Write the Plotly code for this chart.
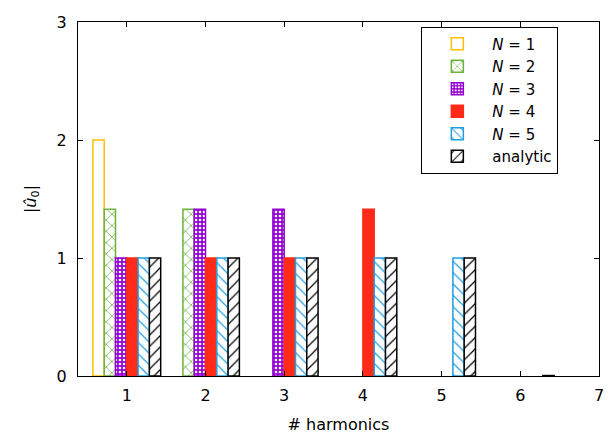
import plotly.graph_objects as go

harmonics = [1, 2, 3, 4, 5, 6]
series_names = ["<i>N</i> = 1", "<i>N</i> = 2", "<i>N</i> = 3", "<i>N</i> = 4", "<i>N</i> = 5", "analytic"]
n1 = [2.0, None, None, None, None, None]
n2 = [1.414, 1.414, None, None, None, None]
n3 = [1.0, 1.414, 1.414, None, None, None]
n4 = [1.0, 1.0, 1.0, 1.414, None, None]
n5 = [1.0, 1.0, 1.0, 1.0, 1.0, None]
analytic = [1.0, 1.0, 1.0, 1.0, 1.0, 0.004]
series_values = [n1, n2, n3, n4, n5, analytic]

colors = ["#ffbf00", "#6cb33e", "#9400d3", "#ff2a17", "#1f9ee0", "#000000"]
patterns = [
    dict(shape="", fillmode="replace"),
    dict(shape="x", fgcolor=colors[1], bgcolor="white", size=8, solidity=0.18, fillmode="replace"),
    dict(shape=".", fgcolor="white", bgcolor=colors[2], size=4, solidity=0.35, fillmode="replace"),
    dict(shape="", fillmode="replace"),
    dict(shape="\\", fgcolor=colors[4], bgcolor="white", size=8, solidity=0.15, fillmode="replace"),
    dict(shape="/", fgcolor=colors[5], bgcolor="white", size=8, solidity=0.15, fillmode="replace"),
]
fills = ["rgba(0,0,0,0)", "white", colors[2], colors[3], "white", "white"]

fig = go.Figure()
for name, vals, col, pat, fc in zip(series_names, series_values, colors, patterns, fills):
    fig.add_trace(go.Bar(
        x=harmonics, y=vals, name=name,
        marker=dict(color=fc, line=dict(color=col, width=1.5), pattern=pat),
    ))

# The page body has an 8px margin, so the figure is drawn at (8, 8).
font_family = "'DejaVu Sans', sans-serif"
fig.update_layout(
    width=604, height=426,
    margin=dict(l=70, r=13, t=14, b=58, autoexpand=False),
    barmode="group", bargap=0.139, bargroupgap=0,
    plot_bgcolor="white", paper_bgcolor="white",
    font=dict(family=font_family, size=16, color="black"),
    showlegend=True,
    legend=dict(
        x=0.659, y=0.987, xanchor="left", yanchor="top",
        bordercolor="black", borderwidth=1, bgcolor="white",
        font=dict(size=15), itemwidth=60, tracegroupgap=0,
    ),
    xaxis=dict(
        range=[0.38, 7], tickmode="linear", tick0=1, dtick=1, automargin=False,
        showline=True, linecolor="black", linewidth=1, mirror="ticks",
        ticks="inside", ticklen=5, tickcolor="black", showgrid=False, zeroline=False,
        ticklabelstandoff=5,
        title=dict(text="# harmonics", font=dict(size=16), standoff=20),
    ),
    yaxis=dict(
        range=[0, 3], tickmode="linear", tick0=0, dtick=1, automargin=False,
        showline=True, linecolor="black", linewidth=1, mirror="ticks",
        ticks="inside", ticklen=5, tickcolor="black", showgrid=False, zeroline=False,
        ticklabelstandoff=7,
        title=dict(text="|<i>û</i><sub>0</sub>|", font=dict(size=16), standoff=16),
    ),
)
fig.write_html("out.html")
